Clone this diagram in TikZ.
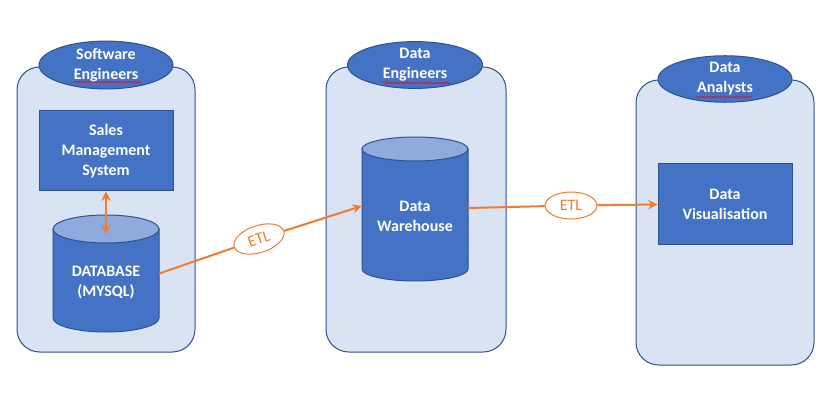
\documentclass[tikz,border=0pt]{standalone}
\usepackage{fontspec}
\setmainfont{Carlito}
\usetikzlibrary{shapes.geometric,arrows.meta,calc,decorations.pathmorphing}
\definecolor{dblue}{HTML}{4472C4}
\definecolor{lblue}{HTML}{DAE3F3}
\definecolor{bord}{HTML}{2F528F}
\definecolor{ctop}{HTML}{8FAADC}
\definecolor{orng}{HTML}{ED7D31}
\begin{document}
\begin{tikzpicture}[x=0.75pt,y=0.75pt,
  container/.style 2 args={draw=bord, fill=lblue, line width=0.75pt, rounded corners=17pt,
     minimum width=#1*0.75pt, minimum height=#2*0.75pt, inner sep=0pt},
  team/.style 2 args={ellipse, draw=bord, fill=dblue, line width=0.75pt,
     minimum width=#1*0.75pt, minimum height=#2*0.75pt, inner sep=0pt,
     text=white, align=center, font=\bfseries\fontsize{12}{15}\selectfont},
  bluebox/.style 2 args={draw=bord, fill=dblue, line width=0.75pt,
     minimum width=#1*0.75pt, minimum height=#2*0.75pt, inner sep=0pt,
     text=white, align=center, font=\bfseries\fontsize{12}{15}\selectfont},
  cylarea/.style 2 args={minimum width=#1*0.75pt, minimum height=#2*0.75pt, inner sep=0pt},
  wtext/.style={text=white, align=center, font=\bfseries\fontsize{12}{15}\selectfont, inner sep=0pt},
  cylbody/.style={fill=dblue, draw=bord, line width=0.75pt},
  cyltop/.style={fill=ctop, draw=bord, line width=0.75pt},
  etl/.style={ellipse, draw=orng, fill=white, line width=0.75pt, text=orng,
     minimum width=52*0.75pt, minimum height=27*0.75pt, inner sep=0pt,
     font=\fontsize{12}{14}\selectfont},
  conn/.style={draw=orng, line width=1.5pt},
  tip/.style={-{Stealth[length=7pt,width=7pt]}},
  squig/.style={draw=red, line width=0.4pt, decorate,
     decoration={snake, amplitude=0.6pt, segment length=2.5pt}}
]
\useasboundingbox (0,0) rectangle (835,-413);
\fill[white] (0,0) rectangle (835,-413);

% containers
\node[container={178}{285}] (c1) at (106,-209.5) {};
\node[container={180}{285}] (c2) at (416,-209.5) {};
\node[container={178}{285}] (c3) at (725,-222.5) {};

% team ellipses
\node[team={134}{44}] (t1) at (106,-65) {Software\\Engineers};
\node[team={135}{45}] (t2) at (415,-65) {Data\\Engineers};
\node[team={134}{46}] (t3) at (725,-79) {Data\\Analysts};
\draw[squig] (74,-82) -- (142,-82);
\draw[squig] (383,-83) -- (451,-83);
\draw[squig] (696,-97) -- (752,-97);

% boxes
\node[bluebox={134}{80}] (sales) at (106,-151) {Sales\\Management\\System};
\node[bluebox={134}{81}] (vis) at (725,-204.5) {Data\\Visualisation};

% database cylinder
\path[cylbody] (53,-229) -- (53,-318) arc[start angle=180,end angle=360,x radius=53,y radius=14] -- (159,-229) -- cycle;
\path[cyltop] (106,-229) ellipse[x radius=53,y radius=14];
\node[cylarea={106}{117}] (db) at (106,-273.5) {};
\node[wtext] (dbt) at (106,-282) {DATABASE\\(MYSQL)};

% warehouse cylinder
\path[cylbody] (362,-149) -- (362,-269) arc[start angle=180,end angle=360,x radius=53,y radius=12] -- (468,-149) -- cycle;
\path[cyltop] (415,-149) ellipse[x radius=53,y radius=12];
\node[cylarea={106}{144}] (wh) at (415,-209) {};
\node[wtext] (wht) at (415,-216) {Data\\Warehouse};

% connectors
\coordinate (dbtop) at (106,-234);
\draw[conn,{Stealth[length=7pt,width=7pt]}-{Stealth[length=7pt,width=7pt]}] (sales.south) -- (dbtop);

\node[etl, rotate=18] (etl1) at (259,-239) {ETL};
\draw[conn] (db.east) -- (etl1);
\draw[conn,tip] (etl1) -- ($(wh.west)+(0,3)$);

\node[etl] (etl2) at (571,-205.5) {ETL};
\draw[conn] ($(wh.east)+(0,1)$) -- (etl2);
\draw[conn,tip] (etl2) -- (vis.west);
\end{tikzpicture}
\end{document}
